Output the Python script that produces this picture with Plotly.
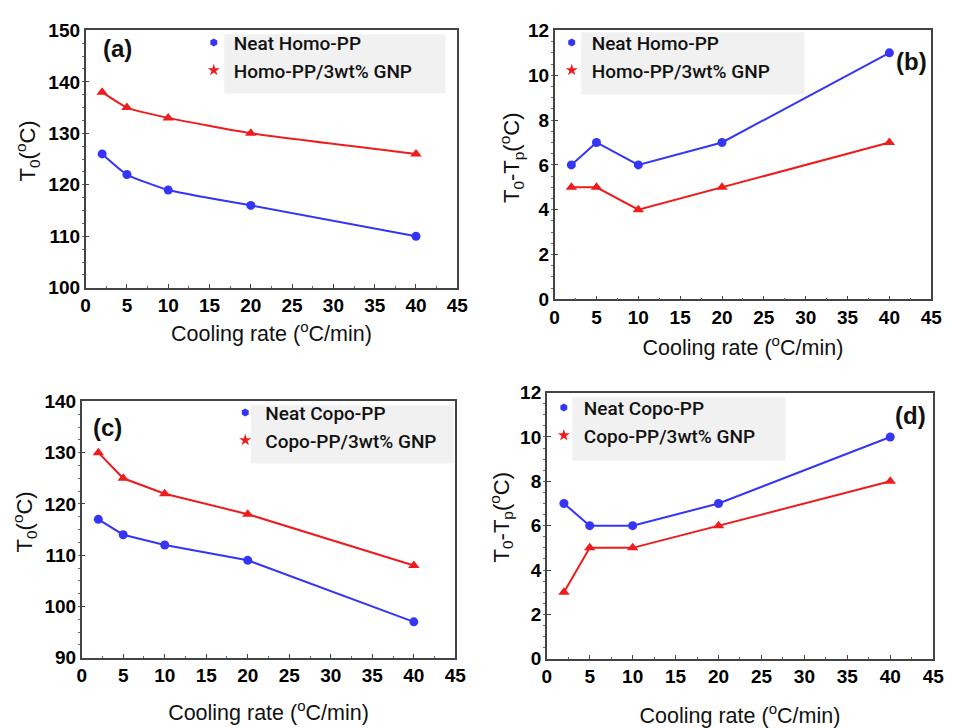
import plotly.graph_objects as go

W, H = 955, 728

cooling_rate = [2, 5, 10, 20, 40]

# (a) onset temperature, Homo-PP
a_neat = [126, 122, 119, 116, 110]
a_gnp = [138, 135, 133, 130, 126]
# (b) T0 - Tp, Homo-PP
b_neat = [6, 7, 6, 7, 11]
b_gnp = [5, 5, 4, 5, 7]
# (c) onset temperature, Copo-PP
c_neat = [117, 114, 112, 109, 97]
c_gnp = [130, 125, 122, 118, 108]
# (d) T0 - Tp, Copo-PP
d_neat = [7, 6, 6, 7, 10]
d_gnp = [3, 5, 5, 6, 8]

names_homo = ["Neat Homo-PP", "Homo-PP/3wt% GNP"]
names_copo = ["Neat Copo-PP", "Copo-PP/3wt% GNP"]
panel_labels = ["(a)", "(b)", "(c)", "(d)"]
x_title = "Cooling rate (<sup>o</sup>C/min)"
ytitles = ["T<sub>0</sub>(<sup>o</sup>C)", "T<sub>0</sub>-T<sub>p</sub>(<sup>o</sup>C)",
           "T<sub>0</sub>(<sup>o</sup>C)", "T<sub>0</sub>-T<sub>p</sub>(<sup>o</sup>C)"]

BLUE = "#3535f5"
RED = "#ee1c1c"

def px_x(p):
    return p / W

def px_y(p):
    return 1 - p / H

# plot area pixel boxes: (left, right, top, bottom)
boxes = [(82, 460, 21, 286), (559, 942, 21, 298), (78, 458, 403, 667), (551, 944, 394, 668)]
yranges = [(100, 150, 10), (0, 12, 2), (90, 140, 10), (0, 12, 2)]
ytitle_pos = [(23, 145), (515, 152), (20, 527), (505, 523)]
xstandoff = [11, 13, 20, 23]
series = [(a_neat, a_gnp, names_homo), (b_neat, b_gnp, names_homo),
          (c_neat, c_gnp, names_copo), (d_neat, d_gnp, names_copo)]
shapes_line = ["spline", "linear", "linear", "linear"]
# legend (left x, top y) and gray box (l, r, t, b)
legend_pos = [(192, 14), (556, 14), (224, 395), (548, 390)]
legend_box = [(223, 448, 25, 86), (586, 813, 23, 87), (250, 456, 407, 467), (577, 794, 399, 464)]
label_pos = [(114, 40), (922, 53), (104, 430), (921, 418)]

fig = go.Figure()
layout = dict(
    width=W, height=H, margin=dict(l=0, r=0, t=0, b=0),
    paper_bgcolor="white", plot_bgcolor="white", showlegend=True,
)
shapes = []
annotations = []

for i in range(4):
    n = "" if i == 0 else str(i + 1)
    xa, ya = "x" + n, "y" + n
    lg = "legend" + n
    neat, gnp, nm = series[i]
    fig.add_trace(go.Scatter(x=cooling_rate, y=neat, mode="lines+markers", xaxis=xa, yaxis=ya,
                             line=dict(color=BLUE, width=2, shape=shapes_line[i], smoothing=0.5),
                             marker=dict(symbol="circle", size=9, color=BLUE), showlegend=False))
    fig.add_trace(go.Scatter(x=cooling_rate, y=gnp, mode="lines+markers", xaxis=xa, yaxis=ya,
                             line=dict(color=RED, width=2, shape=shapes_line[i], smoothing=0.5),
                             marker=dict(symbol="triangle-up", size=10, color=RED), showlegend=False))
    # legend entries
    fig.add_trace(go.Scatter(x=[None], y=[None], mode="markers", xaxis=xa, yaxis=ya, name=nm[0],
                             legend=lg, marker=dict(symbol="hexagon", size=8, color=BLUE)))
    fig.add_trace(go.Scatter(x=[None], y=[None], mode="markers", xaxis=xa, yaxis=ya, name=nm[1],
                             legend=lg, marker=dict(symbol="star", size=9, color=RED)))
    l, r, t, b = boxes[i]
    y0, y1, dy = yranges[i]
    axis_common = dict(
        showline=True, linecolor="#444", linewidth=1.5, mirror=True,
        ticks="inside", ticklen=4, tickwidth=1, tickcolor="#444",
        showgrid=False, zeroline=False,
        tickfont=dict(family="Liberation Sans, Arial", size=19, color="black", weight="bold"),
    )
    layout["xaxis" + n] = dict(
        domain=[px_x(l), px_x(r)], anchor=ya, range=[0, 45], dtick=5, tick0=0,
        minor=dict(ticks="inside", ticklen=2, dtick=2.5, tickcolor="#666"),
        title=dict(text=x_title, standoff=xstandoff[i],
                   font=dict(family="Liberation Sans, Arial", size=21.5, color="#111")),
        **axis_common)
    layout["yaxis" + n] = dict(
        domain=[px_y(b), px_y(t)], anchor=xa, range=[y0, y1], dtick=dy, tick0=0,
        minor=dict(ticks="outside", ticklen=2, dtick=dy / 4, tickcolor="#666"),
        **axis_common)
    mx, my = legend_pos[i]
    layout[lg] = dict(
        x=px_x(mx), y=px_y(my), xanchor="left", yanchor="top",
        bgcolor="rgba(0,0,0,0)", borderwidth=0,
        itemclick=False, itemdoubleclick=False,
        font=dict(family="Roboto, Open Sans", size=19, color="#111", weight=500),
    )
    bl, br, bt, bb = legend_box[i]
    shapes.append(dict(type="rect", xref="paper", yref="paper",
                       x0=px_x(bl), x1=px_x(br), y0=px_y(bb), y1=px_y(bt),
                       fillcolor="#f1f1f1", line=dict(width=0), layer="below"))
    lx, ly = label_pos[i]
    annotations.append(dict(text=panel_labels[i], xref="paper", yref="paper",
                            x=px_x(lx), y=px_y(ly), xanchor="center", yanchor="middle",
                            showarrow=False,
                            font=dict(family="Liberation Sans, Arial", size=24, color="#111", weight="bold")))
    tx, ty = ytitle_pos[i]
    annotations.append(dict(text=ytitles[i], xref="paper", yref="paper", textangle=-90,
                            x=px_x(tx), y=px_y(ty), xanchor="center", yanchor="middle",
                            showarrow=False,
                            font=dict(family="Liberation Sans, Arial", size=22, color="#111")))

layout["shapes"] = shapes
layout["annotations"] = annotations
fig.update_layout(**layout)
fig.write_html("out.html")
